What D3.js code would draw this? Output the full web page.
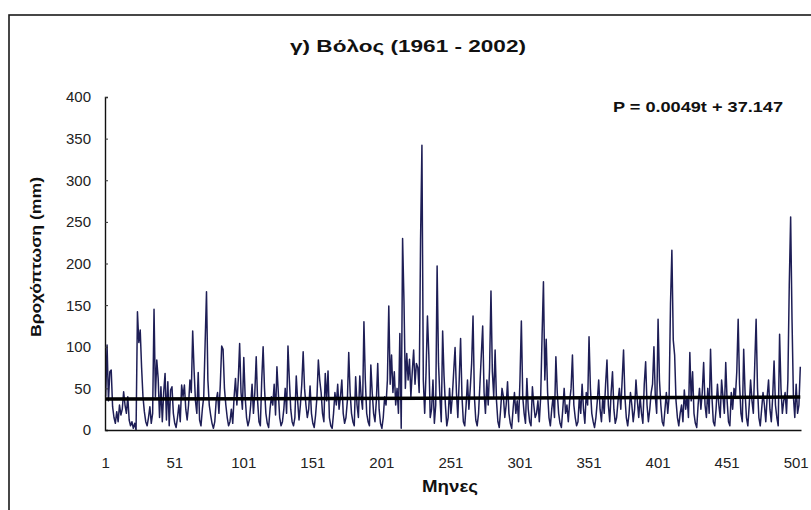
<!DOCTYPE html>
<html>
<head>
<meta charset="utf-8">
<script src="https://cdn.jsdelivr.net/npm/d3@7"></script>
<style>
  html, body { margin: 0; padding: 0; background: #ffffff; }
  svg { display: block; font-family: "Liberation Sans", Arial, sans-serif; }
</style>
</head>
<body>
<svg id="chart" width="811" height="510"></svg>
<script>
// ---- Data (monthly precipitation, mm; Volos 1961-2002, 504 months) ----
const chartTitle = "γ) Βόλος (1961 - 2002)";
const yTitle = "Βροχόπτωση (mm)";
const xTitle = "Μηνες";
const equationLabel = "P = 0.0049t + 37.147";
const trendSlope = 0.0049;
const trendIntercept = 37.147;
const yTicks = [0, 50, 100, 150, 200, 250, 300, 350, 400];
const xTickLabels = ["1", "51", "101", "151", "201", "251", "301", "351", "401", "451", "501"];

const precipitation = [
  40,102,35,70,72,28,15,8,22,10,30,18,
  25,46,30,20,40,12,5,10,2,8,0,142,
  105,120,75,40,22,10,5,15,28,8,20,145,
  40,84,62,15,52,10,45,68,12,58,5,48,
  52,20,8,3,15,30,10,54,40,54,25,12,
  30,60,45,119,72,35,20,69,12,5,25,40,
  104,166,60,30,18,8,2,10,35,45,20,55,
  101,97,50,30,15,5,10,25,8,40,62,30,
  60,104,45,25,87,40,15,5,12,30,55,20,
  45,88,35,10,5,60,100,50,20,8,3,25,
  40,30,55,18,76,45,15,5,10,25,50,20,
  101,60,25,10,5,15,65,35,12,30,55,94,
  50,30,15,25,53,20,8,3,18,40,84,60,
  45,20,10,68,35,71,15,5,2,20,45,30,
  55,25,40,60,20,8,15,35,93,45,20,10,
  5,64,30,15,65,40,25,130,60,20,10,5,
  78,45,20,10,35,80,25,8,2,15,40,30,
  60,149,55,90,45,70,30,50,20,116,2,230,
  155,50,92,60,85,40,70,96,55,80,75,45,
  227,342,60,20,70,137,90,15,25,60,8,30,
  197,80,40,10,119,65,30,5,15,50,20,40,
  70,99,45,15,60,110,40,10,5,30,60,25,
  50,80,137,40,12,5,20,55,90,125,45,20,
  60,30,75,167,70,40,96,35,10,3,25,50,
  40,15,30,58,20,8,2,25,45,20,35,10,
  60,131,40,20,8,62,25,10,5,52,30,15,
  20,35,10,40,113,178,60,109,45,15,5,25,
  40,15,88,45,20,8,3,25,50,20,30,10,
  35,50,90,30,15,5,10,40,20,55,25,8,
  45,30,112,50,20,10,3,15,35,60,25,10,
  40,20,55,84,30,10,45,70,25,8,15,35,
  50,25,60,96,40,15,5,20,45,30,10,25,
  60,35,15,40,20,8,55,82,30,10,25,45,
  55,100,40,20,133,60,30,10,5,25,45,20,
  40,152,216,108,90,35,15,5,20,30,10,48,
  25,40,15,93,35,70,20,8,3,30,50,25,
  45,81,30,15,50,20,97,40,10,5,25,55,
  30,15,60,40,20,81,35,10,5,45,25,50,
  40,70,133,55,20,10,97,45,15,5,30,60,
  35,20,78,133,50,15,5,25,45,30,10,40,
  60,25,10,40,83,30,15,5,115,50,20,35,
  45,20,60,174,256,132,40,15,55,20,30,76
];
const months = precipitation.map((_, i) => i + 1);

// ---- Drawing ----
const svg = d3.select("#chart");

// outer chart frame
svg.append("rect")
  .attr("x", 9).attr("y", 15)
  .attr("width", 820).attr("height", 520)
  .attr("fill", "none").attr("stroke", "#1a1a1a").attr("stroke-width", 1.6);

const x = d3.scaleLinear().domain([0.5, months.length + 0.5]).range([105, 801]);
const y = d3.scaleLinear().domain([0, 400]).range([430, 97]);

// title
svg.append("text")
  .attr("x", 408).attr("y", 52)
  .attr("text-anchor", "middle")
  .attr("font-size", 17).attr("font-weight", "bold").attr("fill", "#111")
  .attr("textLength", 236).attr("lengthAdjust", "spacingAndGlyphs")
  .text(chartTitle);

// series line
const line = d3.line().x((d, i) => x(months[i])).y(d => y(d));
svg.append("path")
  .datum(precipitation)
  .attr("d", line)
  .attr("fill", "none")
  .attr("stroke", "#1e1e56")
  .attr("stroke-width", 1.5)
  .attr("stroke-linejoin", "round");

// y axis
const yAxis = d3.axisRight(y).tickValues(yTicks).tickSize(3).tickFormat("");
const gy = svg.append("g").attr("transform", "translate(105,0)").call(yAxis);
gy.select(".domain").attr("stroke", "#111").attr("stroke-width", 1.4);
gy.selectAll(".tick line").attr("stroke", "#333");

svg.append("g").selectAll("text")
  .data(yTicks).join("text")
  .attr("x", 91).attr("y", d => y(d))
  .attr("dy", "0.36em")
  .attr("text-anchor", "end")
  .attr("font-size", 15).attr("fill", "#222")
  .text(d => d);

// x axis
const xAxis = d3.axisBottom(x).tickValues([]).tickSize(0);
const gx = svg.append("g").attr("transform", "translate(0,430)").call(xAxis);
gx.select(".domain").attr("stroke", "#111").attr("stroke-width", 1.6);

svg.append("g").selectAll("text")
  .data(xTickLabels).join("text")
  .attr("x", d => x(+d)).attr("y", 463)
  .attr("dy", "0.36em")
  .attr("text-anchor", "middle")
  .attr("font-size", 15).attr("fill", "#222")
  .text(d => d);

// trend line
svg.append("line")
  .attr("x1", x(1)).attr("y1", y(trendSlope * 1 + trendIntercept))
  .attr("x2", x(months.length)).attr("y2", y(trendSlope * months.length + trendIntercept))
  .attr("stroke", "#000").attr("stroke-width", 3.5);

// equation
svg.append("text")
  .attr("x", 613).attr("y", 112)
  .attr("font-size", 14).attr("font-weight", "bold").attr("fill", "#111")
  .attr("textLength", 170).attr("lengthAdjust", "spacingAndGlyphs")
  .text(equationLabel);

// axis titles
svg.append("text")
  .attr("transform", "translate(41,257) rotate(-90)")
  .attr("text-anchor", "middle")
  .attr("font-size", 15).attr("font-weight", "bold").attr("fill", "#111")
  .attr("textLength", 160).attr("lengthAdjust", "spacingAndGlyphs")
  .text(yTitle);

svg.append("text")
  .attr("x", 450).attr("y", 492)
  .attr("text-anchor", "middle")
  .attr("font-size", 16).attr("font-weight", "bold").attr("fill", "#111")
  .attr("textLength", 56).attr("lengthAdjust", "spacingAndGlyphs")
  .text(xTitle);
</script>
</body>
</html>
